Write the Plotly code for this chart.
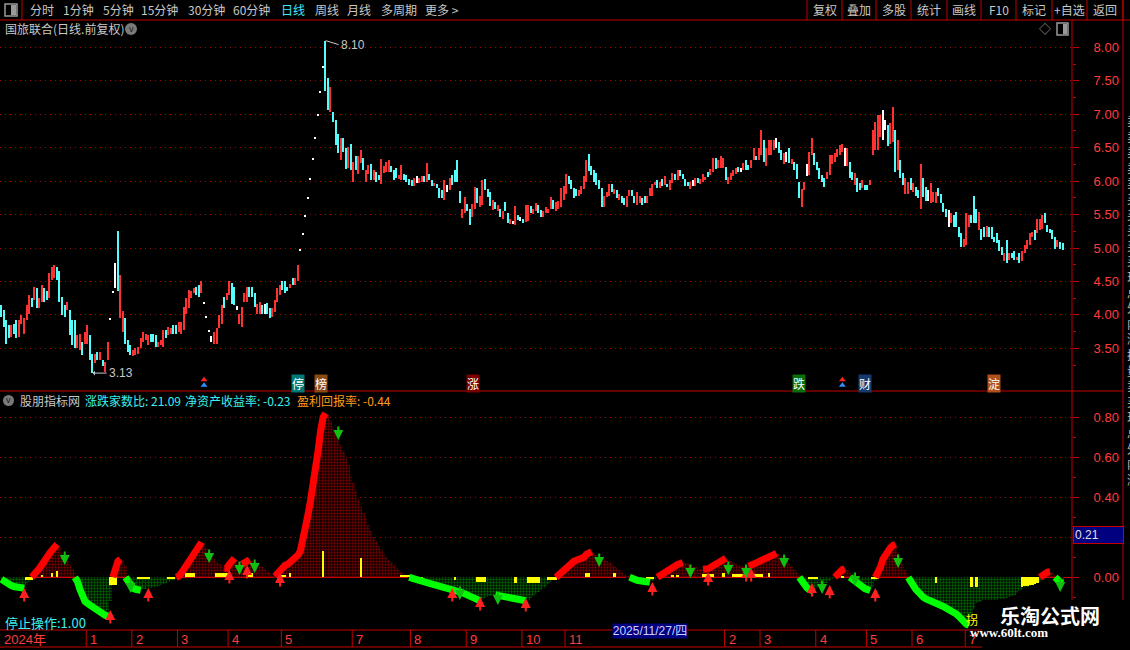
import plotly.graph_objects as go

# ---------------- daily candles, oldest first ----------------
high = [
    4.15, 4.07, 3.92, 3.85, 3.85, 3.87, 3.92, 3.92, 4.00, 3.95,
    4.15, 4.30, 4.25, 4.42, 4.40, 4.25, 4.45, 4.40, 4.35, 4.62,
    4.72, 4.75, 4.71, 4.65, 4.27, 4.15, 4.20, 4.07, 3.92, 3.92,
    3.70, 3.72, 3.60, 3.75, 3.85, 3.70, 3.42, 3.42, 3.45, 3.45,
    3.33, 3.30, 3.60, 3.95, 4.35, 4.77, 5.25, 4.60, 4.06, 3.95,
    3.62, 3.55, 3.47, 3.50, 3.52, 3.65, 3.75, 3.72, 3.70, 3.72,
    3.72, 3.70, 3.60, 3.62, 3.77, 3.77, 3.82, 3.80, 3.85, 3.85,
    3.90, 3.90, 4.12, 4.25, 4.37, 4.35, 4.40, 4.42, 4.45, 4.50,
    4.19, 3.99, 3.78, 3.69, 3.75, 3.80, 4.00, 4.15, 4.27, 4.32,
    4.50, 4.47, 4.42, 4.13, 4.01, 4.12, 4.32, 4.42, 4.41, 4.41,
    4.32, 4.17, 4.20, 4.15, 4.17, 4.18, 4.10, 4.10, 4.22, 4.40,
    4.45, 4.50, 4.50, 4.42, 4.46, 4.55, 4.55, 4.75, 4.98, 5.22,
    5.49, 5.76, 6.04, 6.34, 6.66, 7.00, 7.35, 7.72, 8.10, 7.54,
    7.41, 7.04, 6.91, 6.70, 6.65, 6.65, 6.49, 6.51, 6.55, 6.29,
    6.37, 6.38, 6.47, 6.34, 6.16, 6.24, 6.26, 6.17, 6.14, 6.09,
    6.33, 6.23, 6.29, 6.32, 6.23, 6.17, 6.19, 6.09, 6.24, 6.11,
    6.09, 6.03, 6.01, 6.04, 6.08, 6.04, 6.08, 6.08, 6.27, 6.11,
    6.01, 5.97, 5.96, 5.89, 5.87, 6.01, 5.94, 6.04, 6.09, 6.17,
    6.32, 5.85, 5.58, 5.76, 5.66, 5.58, 5.66, 5.91, 5.89, 5.77,
    6.01, 6.03, 5.88, 5.84, 5.72, 5.69, 5.64, 5.58, 5.56, 5.69,
    5.53, 5.44, 5.41, 5.63, 5.49, 5.47, 5.43, 5.64, 5.64, 5.63,
    5.58, 5.67, 5.64, 5.57, 5.56, 5.61, 5.59, 5.76, 5.72, 5.69,
    5.71, 5.89, 5.92, 6.11, 6.08, 6.02, 5.89, 5.88, 5.87, 5.93,
    6.08, 6.32, 6.41, 6.23, 6.17, 6.12, 6.02, 5.89, 5.78, 5.84,
    5.96, 5.96, 5.88, 5.87, 5.81, 5.78, 5.74, 5.78, 5.87, 5.86,
    5.78, 5.84, 5.78, 5.74, 5.78, 5.77, 5.90, 5.96, 5.99, 6.02,
    5.99, 6.03, 6.08, 5.96, 6.02, 6.12, 6.11, 6.17, 6.17, 6.11,
    6.03, 5.98, 5.99, 6.02, 6.04, 6.04, 6.03, 6.11, 6.06, 6.14,
    6.18, 6.34, 6.34, 6.31, 6.38, 6.34, 6.21, 6.06, 6.12, 6.17,
    6.19, 6.21, 6.19, 6.27, 6.31, 6.24, 6.32, 6.50, 6.38, 6.50,
    6.76, 6.62, 6.49, 6.61, 6.61, 6.61, 6.64, 6.59, 6.46, 6.42,
    6.44, 6.50, 6.33, 6.29, 6.26, 5.99, 5.88, 5.99, 6.26, 6.44,
    6.64, 6.42, 6.29, 6.19, 6.09, 6.04, 6.14, 6.39, 6.39, 6.42,
    6.48, 6.54, 6.55, 6.49, 6.49, 6.29, 6.14, 6.12, 6.04, 5.97,
    6.02, 5.94, 5.94, 6.02, 6.76, 6.89, 6.99, 6.99, 7.07, 6.91,
    6.84, 6.87, 7.11, 6.76, 6.61, 6.32, 6.12, 6.04, 5.99, 6.05,
    5.97, 5.91, 5.87, 6.26, 6.04, 5.91, 5.87, 5.97, 5.83, 5.84,
    5.89, 5.81, 5.67, 5.59, 5.57, 5.52, 5.49, 5.54, 5.32, 5.22,
    5.14, 5.52, 5.49, 5.49, 5.77, 5.59, 5.54, 5.29, 5.32, 5.33,
    5.32, 5.32, 5.17, 5.22, 5.12, 5.02, 4.92, 5.12, 4.93, 4.92,
    4.95, 4.87, 4.92, 4.95, 5.05, 5.12, 5.22, 5.24, 5.27, 5.44,
    5.44, 5.49, 5.52, 5.34, 5.29, 5.27, 5.17, 5.12, 5.09, 5.07,
]
low = [
    3.97, 3.82, 3.57, 3.65, 3.67, 3.72, 3.65, 3.67, 3.87, 3.72,
    3.92, 4.02, 4.12, 4.22, 4.10, 4.10, 4.20, 4.20, 4.22, 4.25,
    4.52, 4.55, 4.52, 4.20, 4.00, 3.97, 4.07, 3.70, 3.55, 3.50,
    3.50, 3.48, 3.40, 3.57, 3.57, 3.33, 3.13, 3.28, 3.33, 3.33,
    3.23, 3.15, 3.33, 3.92, 4.32, 4.40, 4.35, 3.95, 3.75, 3.57,
    3.45, 3.40, 3.38, 3.40, 3.42, 3.50, 3.60, 3.62, 3.55, 3.60,
    3.60, 3.52, 3.52, 3.55, 3.52, 3.65, 3.70, 3.72, 3.72, 3.72,
    3.75, 3.72, 3.77, 4.02, 4.10, 4.25, 4.32, 4.30, 4.27, 4.32,
    4.16, 3.96, 3.75, 3.59, 3.57, 3.57, 3.80, 3.87, 4.10, 4.22,
    4.30, 4.17, 4.15, 4.07, 3.87, 3.82, 4.20, 4.20, 4.27, 4.27,
    4.12, 4.01, 4.02, 4.02, 4.02, 4.02, 3.96, 3.97, 4.05, 4.20,
    4.30, 4.37, 4.32, 4.35, 4.40, 4.45, 4.45, 4.50, 4.95, 5.19,
    5.46, 5.73, 6.01, 6.31, 6.63, 6.97, 7.32, 7.69, 7.34, 7.06,
    7.04, 6.89, 6.54, 6.42, 6.31, 6.44, 6.18, 6.19, 6.17, 5.99,
    6.17, 6.11, 6.27, 6.17, 5.99, 6.11, 6.01, 6.02, 5.99, 6.01,
    5.96, 6.12, 6.14, 6.14, 6.14, 6.02, 6.04, 6.03, 6.02, 6.02,
    5.99, 5.94, 5.93, 5.93, 5.97, 5.97, 5.99, 5.99, 5.99, 6.01,
    5.93, 5.93, 5.89, 5.75, 5.74, 5.72, 5.84, 5.87, 5.94, 5.99,
    5.98, 5.68, 5.45, 5.52, 5.55, 5.34, 5.47, 5.58, 5.67, 5.62,
    5.64, 5.87, 5.76, 5.63, 5.57, 5.59, 5.56, 5.46, 5.43, 5.55,
    5.38, 5.36, 5.36, 5.34, 5.42, 5.41, 5.38, 5.39, 5.41, 5.52,
    5.51, 5.56, 5.52, 5.47, 5.47, 5.52, 5.53, 5.58, 5.58, 5.56,
    5.59, 5.61, 5.72, 5.81, 5.96, 5.88, 5.75, 5.77, 5.78, 5.81,
    5.88, 5.99, 6.15, 6.09, 5.99, 5.94, 5.88, 5.62, 5.62, 5.76,
    5.77, 5.83, 5.81, 5.75, 5.72, 5.68, 5.64, 5.62, 5.78, 5.77,
    5.68, 5.64, 5.67, 5.64, 5.68, 5.68, 5.77, 5.78, 5.94, 5.89,
    5.89, 5.92, 5.94, 5.91, 5.87, 5.97, 6.02, 6.02, 6.08, 6.03,
    5.93, 5.92, 5.88, 5.92, 5.93, 5.97, 5.96, 5.99, 6.01, 6.06,
    6.09, 6.14, 6.18, 6.19, 6.19, 6.19, 6.02, 5.96, 6.02, 6.07,
    6.11, 6.14, 6.14, 6.17, 6.17, 6.16, 6.19, 6.32, 6.31, 6.32,
    6.39, 6.29, 6.23, 6.39, 6.39, 6.46, 6.49, 6.42, 6.31, 6.26,
    6.29, 6.27, 6.26, 6.17, 6.03, 5.75, 5.62, 5.86, 6.08, 6.09,
    6.39, 6.24, 6.17, 6.03, 5.98, 5.91, 6.03, 6.09, 6.26, 6.28,
    6.36, 6.39, 6.44, 6.22, 6.23, 6.04, 6.01, 5.94, 5.84, 5.87,
    5.89, 5.86, 5.86, 5.94, 6.39, 6.47, 6.47, 6.66, 6.62, 6.76,
    6.52, 6.56, 6.59, 6.14, 6.17, 6.04, 5.94, 5.81, 5.81, 5.87,
    5.84, 5.77, 5.75, 5.59, 5.76, 5.71, 5.71, 5.68, 5.69, 5.68,
    5.77, 5.67, 5.54, 5.47, 5.31, 5.37, 5.32, 5.31, 5.17, 5.02,
    5.02, 5.05, 5.32, 5.37, 5.38, 5.38, 5.27, 5.12, 5.17, 5.17,
    5.17, 5.14, 5.09, 5.07, 4.95, 4.90, 4.80, 4.77, 4.82, 4.85,
    4.82, 4.82, 4.78, 4.80, 4.92, 4.99, 5.05, 5.17, 5.12, 5.22,
    5.27, 5.29, 5.37, 5.24, 5.22, 5.14, 4.99, 5.02, 4.99, 4.97,
]
# r = up day (red), c = down day (cyan), w = flat / one-price day (white)
kind = (
    "ccccrccrrr" "rrcrcrrccr" "rrccccrccc" "rrcrrccrcr" "crrwwwcrrc"
    "ccrrrrrrrc" "ccrrrcrrcc" "rrrrrrrccr" "wwwwrrrrcr" "rccwrrrrcc"
    "crrcwccrrr" "rcccrcrrww" "wwwwwwwwcc" "rcccrccrcr" "crrcrrcrcc"
    "rrrrcccrrc" "cccrwrrcrc" "crcccrwrcc" "ccrrccrrcr" "rcccrcrcrc"
    "crwrcwcrrc" "rrccrrrrcr" "rrrrccccrr" "rrccccccrr" "rcrcrccrrc"
    "crrccrrrrc" "rcrcrrcrcc" "ccrwrcrrrc" "rrcrrrcrrr" "rcwrccrrcr"
    "rcrrrrwccr" "wcrcccrrwr" "rcccccrrrr" "rrrwrccrcc" "rccrrrrrww"
    "crrcrccrrc" "rccrccwrrr" "ccccwrcccc" "rrrcccrccr" "ccccccrcrc"
    "crcrrrrrcr" "rrcccccrcc"
)

# ---------------- lower indicator, one value per candle ----------------
ind = [
    -0.01, -0.02, -0.03, -0.036, -0.042, -0.046, -0.05, -0.052, -0.054, -0.055,
    -0.04, -0.025, -0.01,
    0.01, 0.03, 0.045, 0.06, 0.08, 0.10, 0.12, 0.14, 0.155, 0.165,
    0.15, 0.12, 0.10, 0.08, 0.06, 0.04, 0.02,
    -0.02, -0.06, -0.10, -0.12, -0.13, -0.14, -0.15, -0.16, -0.17, -0.175, -0.18, -0.19, -0.195,
    -0.12, -0.02, 0.05, 0.08, 0.09, 0.085, 0.06,
    -0.02, -0.04, -0.055, -0.06, -0.065, -0.065, -0.06, -0.058, -0.055, -0.052,
    -0.05, -0.047, -0.043, -0.04, -0.035, -0.03, -0.025, -0.02, -0.013, -0.006,
    0.005, 0.02, 0.04, 0.06, 0.08, 0.10, 0.12, 0.14, 0.16, 0.175, 0.17,
    0.15, 0.125, 0.105, 0.09, 0.075, 0.065, 0.055, 0.045, 0.045,
    0.065, 0.085, 0.095, 0.09, 0.075, 0.065,
    0.07, 0.08, 0.088, 0.085, 0.075,
    0.065, 0.058, 0.05, 0.04, 0.03, 0.02, 0.012, 0.005,
    0.02, 0.04, 0.05, 0.06, 0.065, 0.075, 0.085, 0.095, 0.11, 0.13,
    0.18, 0.24, 0.31, 0.38, 0.45, 0.53, 0.63, 0.73, 0.80, 0.82, 0.81,
    0.78, 0.75, 0.72, 0.69, 0.66, 0.63, 0.60, 0.56, 0.51, 0.47,
    0.43, 0.39, 0.35, 0.32, 0.29, 0.26, 0.23, 0.20, 0.18, 0.155,
    0.135, 0.115, 0.10, 0.085, 0.075, 0.06, 0.048, 0.036, 0.026, 0.018, 0.01, 0.004,
    -0.005, -0.01, -0.015, -0.02, -0.022, -0.025, -0.027, -0.03, -0.033, -0.037,
    -0.04, -0.044, -0.048, -0.05, -0.053, -0.057, -0.06, -0.064, -0.068, -0.072,
    -0.077, -0.083, -0.09, -0.098, -0.105, -0.11, -0.115, -0.118, -0.112, -0.105,
    -0.10, -0.095, -0.09, -0.088, -0.09, -0.094, -0.098, -0.10, -0.103, -0.106,
    -0.108, -0.11, -0.112, -0.114, -0.116, -0.117, -0.115, -0.105, -0.095, -0.085,
    -0.075, -0.065, -0.055, -0.045, -0.035, -0.025, -0.015, -0.007,
    0.012, 0.025, 0.04, 0.053, 0.065, 0.075, 0.08, 0.085, 0.088, 0.09, 0.10, 0.115, 0.125, 0.128,
    0.122, 0.113, 0.103, 0.097, 0.09, 0.084, 0.078, 0.068, 0.058, 0.047, 0.036, 0.026, 0.017, 0.009, 0.003,
    -0.008, -0.012, -0.015, -0.017, -0.019, -0.021, -0.023, -0.025, -0.02, -0.01, -0.003,
    0.008, 0.02, 0.032, 0.04, 0.047, 0.053, 0.059, 0.064, 0.069, 0.073,
    0.07, 0.066, 0.06, 0.055, 0.05, 0.046, 0.042, 0.04, 0.04, 0.043,
    0.05, 0.058, 0.066, 0.075, 0.083, 0.09, 0.095, 0.09, 0.082, 0.074,
    0.068, 0.064, 0.06, 0.058, 0.056, 0.055,
    0.058, 0.065, 0.072, 0.078, 0.085, 0.092, 0.10, 0.107, 0.113, 0.118,
    0.12, 0.116, 0.108, 0.098, 0.085, 0.07, 0.055, 0.04, 0.025, 0.01,
    -0.02, -0.038, -0.052, -0.062, -0.066, -0.06, -0.054, -0.047, -0.04, -0.033,
    -0.026, -0.018, -0.01, -0.003,
    0.015, 0.028, 0.038, 0.042, 0.035, 0.02,
    -0.01, -0.025, -0.035, -0.045, -0.052, -0.058, -0.062, -0.066, -0.05, -0.02,
    0.02, 0.05, 0.09, 0.115, 0.135, 0.148, 0.16, 0.166, 0.12, 0.09, 0.065, 0.035, 0.01,
    -0.015, -0.04, -0.06, -0.078, -0.09, -0.10, -0.108, -0.115, -0.12, -0.126,
    -0.131, -0.136, -0.141, -0.147, -0.153, -0.16, -0.167, -0.175, -0.184, -0.195,
    -0.21, -0.225, -0.235, -0.24,
    -0.20, -0.16, -0.13, -0.125, -0.122, -0.12, -0.118, -0.116, -0.115, -0.113,
    -0.112, -0.11, -0.108, -0.106, -0.103, -0.10, -0.095, -0.088, -0.08, -0.07,
    -0.062, -0.055, -0.05, -0.045, -0.04, -0.035, -0.03, -0.025,
    0.01, 0.02, 0.026, 0.028, 0.022, 0.01, -0.015, -0.025, -0.03,
]

# yellow columns (candle index, value)
yellow_i = [10, 11, 12, 16, 20, 22, 43, 44, 45, 54, 55, 56, 57, 58, 66, 67, 68,
            73, 74, 75, 76, 85, 86, 87, 88, 89, 90, 97, 98, 99, 109, 110, 111, 112,
            114, 127, 142, 158, 159, 160, 161, 162, 165, 166, 179, 188, 189, 190, 191,
            203, 208, 209, 210, 211, 212, 216, 217, 218, 219, 231, 232, 242, 255, 256, 257,
            265, 267, 277, 278, 279, 280, 281, 285, 289, 290, 291, 292, 293, 294,
            297, 298, 299, 300, 303, 319, 320, 321, 322, 332, 344, 345, 346, 369, 383, 385,
            403, 404, 405, 406, 407, 408, 409]
yellow_v = [-0.013, -0.013, -0.013, 0.012, 0.02, 0.032, -0.038, -0.038, -0.038,
            -0.01, -0.01, -0.01, -0.01, -0.01, -0.01, -0.01, -0.01,
            0.02, 0.02, 0.02, 0.02, 0.023, 0.023, 0.023, 0.023, 0.023, 0.023,
            0.023, 0.023, 0.023, 0.012, 0.012, 0.012, 0.012,
            0.02, 0.133, 0.098, 0.012, 0.012, 0.012, 0.012, 0.012, -0.013, -0.013, -0.013,
            -0.022, -0.022, -0.022, -0.022,
            -0.027, -0.027, -0.027, -0.027, -0.027, -0.027, -0.013, -0.013, -0.013, -0.013,
            0.023, 0.023, 0.02, -0.01, -0.01, -0.01,
            0.012, 0.012, 0.017, 0.017, 0.017, 0.017, 0.017, 0.02,
            0.017, 0.017, 0.017, 0.017, 0.017, 0.017,
            0.017, 0.017, 0.017, 0.017, 0.02, -0.01, -0.01, -0.01, -0.01, 0.007,
            -0.01, -0.01, -0.01, -0.027, -0.047, -0.047,
            -0.047, -0.045, -0.043, -0.04, -0.037, -0.033, -0.03]

# buy (red up) and sell (green down) arrows: candle index and tip value
buy_i = [9, 43, 58, 90, 97, 110, 178, 189, 207, 257, 279, 294, 296, 320, 327, 345]
buy_v = [-0.054, -0.164, -0.054, 0.037, 0.062, 0.022, -0.054, -0.099, -0.104,
         -0.024, 0.027, 0.047, 0.047, -0.029, -0.039, -0.054]
sell_i = [25, 51, 82, 94, 100, 133, 181, 196, 236, 272, 287, 294, 309, 324, 337, 354, 418]
sell_v = [0.062, -0.079, 0.072, 0.012, 0.022, 0.687, -0.114, -0.139, 0.052, -0.004,
          0.012, -0.004, 0.047, -0.084, -0.044, 0.047, -0.074]

# event tags under the candles
event_i = [117, 126, 186, 315, 341, 392]
event_txt = ["停", "榜", "涨", "跌", "财", "淀"]
event_bg = ["#007878", "#8a4a12", "#7a0000", "#0a6e0a", "#163a70", "#b0501a"]
flag_i = [80, 332]

# bottom date axis: first candle of each labelled month
month_txt = ["2024年", "1", "2", "3", "4", "5", "7", "8", "9", "10", "11",
             "2", "3", "4", "5", "6", "7"]
month_i = [0, 34, 52, 70, 90, 111, 139, 162, 184, 206, 223, 286, 300, 322, 342, 360, 381]
cursor_i, cursor_txt = 256, "2025/11/27/四"

price_ticks = [3.5, 4.0, 4.5, 5.0, 5.5, 6.0, 6.5, 7.0, 7.5, 8.0]
ind_ticks = [0.0, 0.2, 0.4, 0.6, 0.8]

# ---------------- figure ----------------
W, H = 1130, 650
RED = "#c40000"
N = len(high)
idx = list(range(N))
XR = [-0.553, 422.66]


def px(x):
    return x / W


def py(y):
    return 1 - y / H


fig = go.Figure()

cmap = {"r": "#ff3232", "c": "#54fcfc", "w": "#ffffff"}
fig.add_trace(go.Bar(
    x=idx, y=[h - l for h, l in zip(high, low)], base=low, width=0.55,
    marker=dict(color=[cmap[k] for k in kind], line_width=0),
    xaxis="x", yaxis="y", hoverinfo="skip"))

fig.add_trace(go.Scatter(x=flag_i, y=[3.03, 3.03], mode="markers",
                         marker=dict(symbol="triangle-up", size=6, color="#ff2020"),
                         xaxis="x", yaxis="y", hoverinfo="skip"))
fig.add_trace(go.Scatter(x=flag_i, y=[2.95, 2.95], mode="markers",
                         marker=dict(symbol="triangle-up", size=6, color="#2f8fff"),
                         xaxis="x", yaxis="y", hoverinfo="skip"))

# dotted histogram
for sign, col in ((1, "#e00000"), (-1, "#00c000")):
    vals = [v if v * sign > 0 else None for v in ind]
    fig.add_trace(go.Bar(
        x=idx, y=vals, width=1.0, xaxis="x2", yaxis="y2", hoverinfo="skip",
        marker=dict(color="black", line_width=0,
                    pattern=dict(shape=".", fgcolor=col, bgcolor="black",
                                 size=3, solidity=0.5))))

fig.add_trace(go.Bar(x=yellow_i, y=yellow_v, width=1.0, xaxis="x2", yaxis="y2",
                     marker=dict(color="#ffff00", line_width=0), hoverinfo="skip"))


def band(sign):
    xs, ys = [], []
    for i in range(1, N):
        a, b = ind[i - 1], ind[i]
        on = (b > 0 and b >= a) if sign > 0 else (b < 0 and b <= a)
        if not on:
            continue
        if not xs or xs[-1] != i - 1:
            if xs:
                xs.append(None)
                ys.append(None)
            xs.append(i - 1)
            ys.append(max(a, 0) if sign > 0 else min(a, 0))
        xs.append(i)
        ys.append(b)
    return xs, ys


for sign, col in ((1, "#ff0000"), (-1, "#00ff00")):
    bx, by = band(sign)
    fig.add_trace(go.Scatter(x=bx, y=by, mode="lines", connectgaps=False,
                             line=dict(color=col, width=7), xaxis="x2", yaxis="y2",
                             hoverinfo="skip"))

axis_common = dict(side="right", ticks="outside", ticklen=6, tickcolor=RED,
                   tickfont=dict(color="#ff3c3c", size=13, family="Liberation Sans"),
                   ticklabelstandoff=12, showgrid=True, gridcolor="#b00000",
                   griddash="1px,4px", gridwidth=1, showline=False, fixedrange=True)

fig.update_layout(
    width=W, height=H, margin=dict(l=0, r=0, t=0, b=0),
    paper_bgcolor="black", plot_bgcolor="black", showlegend=False,
    barmode="overlay", bargap=0,
    font=dict(family="Noto Sans CJK SC, Liberation Sans", color="#c8c8c8", size=12),
    xaxis=dict(domain=[0, px(1072)], range=XR, visible=False, anchor="y"),
    xaxis2=dict(domain=[0, px(1072)], range=XR, visible=False, anchor="y2", matches="x"),
    yaxis=dict(domain=[py(390), py(38)], range=[2.8774, 8.139], anchor="x",
               tickvals=price_ticks, ticktext=[f"{v:.2f}" for v in price_ticks],
               zeroline=False,
               minor=dict(tickvals=[3.25, 3.75, 4.25, 4.75, 5.25, 5.75, 6.25, 6.75, 7.25, 7.75],
                          ticks="outside", ticklen=3, tickcolor=RED, showgrid=False),
               **axis_common),
    yaxis2=dict(domain=[py(630), py(392)], range=[-0.2635, 0.9265], anchor="x2",
                tickvals=ind_ticks, ticktext=[f"{v:.2f}" for v in ind_ticks],
                zeroline=True, zerolinecolor="#d00000", zerolinewidth=1,
                minor=dict(tickvals=[-0.1, 0.1, 0.3, 0.5, 0.7], ticks="outside", ticklen=3,
                           tickcolor=RED, showgrid=False),
                **axis_common),
)


def line(x0, y0, x1, y1, color=RED, width=1, xref="paper"):
    fig.add_shape(type="line", xref=xref, yref="paper",
                  x0=x0 if xref != "paper" else px(x0), x1=x1 if xref != "paper" else px(x1),
                  y0=py(y0), y1=py(y1), line=dict(color=color, width=width))


def text(t, x, y, color="#c8c8c8", size=12, anchor="left", **kw):
    fig.add_annotation(text=t, x=px(x), y=py(y), xref="paper", yref="paper",
                       xanchor=anchor, yanchor="middle", showarrow=False,
                       font=dict(color=color, size=size), **kw)


# frame lines
line(0, 20, W, 20)
line(22, 0, 22, 20)
line(1072, 20, 1072, 600)
line(1123, 0, 1123, 600)
line(0, 391, 1123, 391)
line(0, 630, 1072, 630)
line(0, 647, 1072, 647)

# top toolbar
fig.add_shape(type="rect", xref="paper", yref="paper", x0=px(5), x1=px(17), y0=py(16), y1=py(4),
              line=dict(color="#9a9a9a", width=1.5))
fig.add_shape(type="rect", xref="paper", yref="paper", x0=px(11), x1=px(16), y0=py(15), y1=py(5),
              fillcolor="#9a9a9a", line_width=0)
tabs = ["分时", "1分钟", "5分钟", "15分钟", "30分钟", "60分钟", "日线", "周线", "月线", "多周期", "更多 >"]
tab_x = [28, 61, 101, 139, 186, 231, 279, 313, 345, 379, 423]
for t, x in zip(tabs, tab_x):
    text(t, x, 10, color="#40e8ff" if t == "日线" else "#c8c8c8")
buttons = ["复权", "叠加", "多股", "统计", "画线", "F10", "标记", "+自选", "返回"]
seps = [807, 842, 876, 911, 947, 981, 1016, 1052, 1087, 1123]
for s in seps:
    line(s, 0, s, 20)
for b, a, c in zip(buttons, seps[:-1], seps[1:]):
    text(b, (a + c) / 2, 10, anchor="center")

# price panel header
text("国旅联合(日线.前复权)", 3, 29)
fig.add_shape(type="circle", xref="paper", yref="paper", x0=px(125), x1=px(137), y0=py(35), y1=py(23),
              fillcolor="#7a7a7a", line_width=0)
text("v", 131, 28, color="#202020", size=9, anchor="center")
text("◇", 1045, 29, color="#9a9a9a", size=12, anchor="center")
fig.add_shape(type="rect", xref="paper", yref="paper", x0=px(1057), x1=px(1068), y0=py(35), y1=py(23),
              line=dict(color="#9a9a9a", width=1.5))
fig.add_shape(type="rect", xref="paper", yref="paper", x0=px(1063), x1=px(1067), y0=py(34), y1=py(24),
              fillcolor="#9a9a9a", line_width=0)

# high / low labels
fig.add_annotation(x=128, y=8.10, xref="x", yref="y", text="8.10", showarrow=True,
                   ax=13, ay=4, arrowhead=0, arrowwidth=1, arrowcolor="#c8c8c8",
                   xanchor="left", font=dict(color="#c8c8c8", size=12, family="Liberation Sans"))
fig.add_annotation(x=36, y=3.13, xref="x", yref="y", text="3.13", showarrow=True,
                   ax=14, ay=0, arrowhead=1, arrowsize=0.8, arrowwidth=1, arrowcolor="#c8c8c8",
                   xanchor="left", font=dict(color="#c8c8c8", size=12, family="Liberation Sans"))

# event tags
for i, t, bg in zip(event_i, event_txt, event_bg):
    fig.add_annotation(x=i, y=py(383), xref="x", yref="paper", text=t, showarrow=False,
                       bgcolor=bg, borderpad=0, font=dict(color="white", size=12),
                       xanchor="center", yanchor="middle")

# indicator header
fig.add_shape(type="circle", xref="paper", yref="paper", x0=px(3), x1=px(14), y0=py(406), y1=py(395),
              fillcolor="#7a7a7a", line_width=0)
text("v", 8.5, 399.5, color="#202020", size=9, anchor="center")
text("股朋指标网", 18, 400)
text("涨跌家数比: 21.09", 83, 400, color="#3cf0f0")
text("净资产收益率: -0.23", 183, 400, color="#3cf0f0")
text("盈利回报率: -0.44", 295, 400, color="#ff9a1a")
text("停止操作:1.00", 3, 622, color="#3cf0f0", size=13)

# arrows
for i, v in zip(buy_i, buy_v):
    fig.add_annotation(x=i, y=v, xref="x2", yref="y2", text="", showarrow=True, ax=0, ay=15,
                       arrowhead=2, arrowsize=1.0, arrowwidth=2, arrowcolor="#ff2020")
for i, v in zip(sell_i, sell_v):
    fig.add_annotation(x=i, y=v, xref="x2", yref="y2", text="", showarrow=True, ax=0, ay=-15,
                       arrowhead=2, arrowsize=1.0, arrowwidth=2, arrowcolor="#10c010")
fig.add_annotation(x=383, y=-0.212, xref="x2", yref="y2", text="拐", showarrow=False,
                   font=dict(color="#ffff00", size=12))

# date axis
for t, i in zip(month_txt, month_i):
    if i > 0:
        line(i - 0.5, 630, i - 0.5, 647, xref="x2")
    fig.add_annotation(x=i - 0.5, y=py(639), xref="x2", yref="paper", text=t, showarrow=False,
                       xanchor="left", yanchor="middle", xshift=2,
                       font=dict(color="#ff3c3c", size=13, family="Liberation Sans, Noto Sans CJK SC"))
fig.add_annotation(x=cursor_i, y=py(639), xref="x2", yref="paper", text=cursor_txt,
                   showarrow=False, bgcolor="#000080", width=74, height=14, borderpad=0,
                   font=dict(color="#d0d0ff", size=12, family="Liberation Sans, Noto Sans CJK SC"))

# current value tag on the indicator axis
fig.add_annotation(x=px(1073), y=0.21, xref="paper", yref="y2", text="0.21", showarrow=False,
                   xanchor="left", yanchor="middle", bgcolor="#000080", bordercolor=RED,
                   borderwidth=1, width=47, height=14, align="left",
                   font=dict(color="#e0e0e0", size=12, family="Liberation Sans"))

# narrow side panel at the right edge (only its first column shows)
text("<br>".join("卖卖卖卖卖买买买买买现总外内涨换量卖买现总外内涨"), 1125, 300, color="#bdbdbd", size=12)

# watermark
fig.add_shape(type="rect", xref="paper", yref="paper", x0=px(982), x1=px(W), y0=py(650), y1=py(600),
              fillcolor="black", line_width=0, layer="above")
text("<b>乐淘公式网</b>", 1050, 615, color="white", size=20, anchor="center")
fig.add_annotation(text="<b>www.60lt.com</b>", x=px(1050), y=py(642), xref="paper", yref="paper",
                   showarrow=False, font=dict(color="white", size=13, family="Liberation Serif"))

fig.write_html("out.html", config={"displayModeBar": False},
               post_script="document.body.style.margin='0';")
